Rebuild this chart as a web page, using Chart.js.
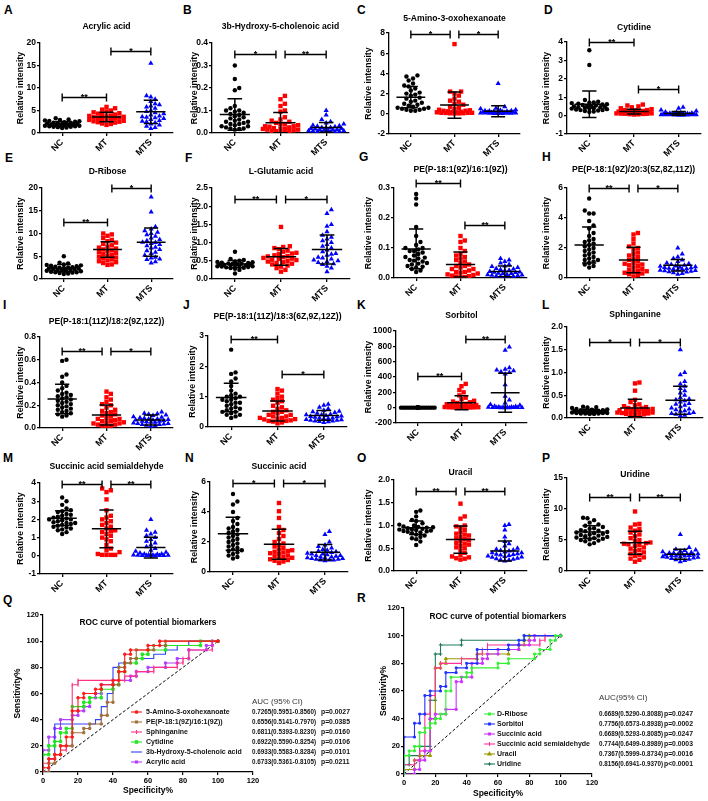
<!DOCTYPE html>
<html><head><meta charset="utf-8">
<script src="https://cdn.jsdelivr.net/npm/chart.js@4.4.0/dist/chart.umd.min.js"></script>
<style>
html,body{margin:0;padding:0;background:#fff;}
body{width:708px;height:801px;position:relative;overflow:hidden;font-family:"Liberation Sans",Arial,sans-serif;}
canvas{position:absolute;}
.lbl{position:absolute;font:bold 12px "Liberation Sans",Arial,sans-serif;line-height:12px;color:#000;}
</style></head><body>
<script>
// ---------------- DATA ----------------
const groups = ['NC', 'MT', 'MTS'];

const A_title = 'Acrylic acid';
const A_ticks = ['0','5','10','15','20'];
const A_NC  = [3.3,3.0,2.9,2.8,2.7,2.6,2.5,2.4,2.3,2.3,2.2,2.1,2.1,2.0,2.0,1.9,1.9,1.8,1.8,1.7,1.7,1.6,1.6,1.5,1.5,1.4,1.4,1.3,1.2,1.1];
const A_MT  = [5.8,5.5,5.2,5.0,4.8,4.6,4.4,4.3,4.1,4.0,3.9,3.8,3.7,3.6,3.5,3.4,3.3,3.2,3.1,3.0,2.9,2.8,2.7,2.6,2.5,2.4,2.3,2.1,2.0,1.8];
const A_MTS = [15.5,8.3,8.0,7.5,7.0,6.5,6.3,6.0,5.8,5.5,5.0,4.8,4.5,4.3,4.0,3.8,3.6,3.5,3.4,3.2,3.0,2.8,2.6,2.5,2.3,2.0,1.8,1.5,1.2,1.0];
const A_mean = [2.0,3.55,4.7];
const A_sd   = [0.55,1.05,2.6];
const A_sig  = [[0,1,8.0,'**'],[1,2,18.2,'*']];

const B_title = '3b-Hydroxy-5-cholenoic acid';
const B_ticks = ['0.0','0.1','0.2','0.3','0.4'];
const B_NC  = [0.30,0.24,0.20,0.19,0.12,0.11,0.10,0.10,0.095,0.09,0.085,0.08,0.075,0.07,0.065,0.06,0.055,0.05,0.05,0.045,0.04,0.04,0.035,0.03,0.03,0.025,0.02,0.02,0.018,0.015];
const B_MT  = [0.165,0.15,0.13,0.12,0.10,0.095,0.07,0.06,0.055,0.05,0.045,0.04,0.04,0.035,0.03,0.03,0.028,0.025,0.022,0.02,0.02,0.018,0.015,0.015,0.012,0.01,0.01,0.008,0.005,0.003];
const B_MTS = [0.10,0.08,0.06,0.05,0.045,0.04,0.035,0.032,0.03,0.028,0.025,0.024,0.022,0.02,0.02,0.018,0.016,0.015,0.014,0.012,0.011,0.01,0.01,0.009,0.008,0.007,0.006,0.005,0.004,0.003];
const B_mean = [0.082,0.046,0.025];
const B_sd   = [0.07,0.045,0.022];
const B_sig  = [[0,1,0.35,'*'],[1,2,0.35,'**']];

const C_title = '5-Amino-3-oxohexanoate';
const C_ticks = ['-2','0','2','4','6','8'];
const C_NC  = [3.8,3.7,3.5,3.3,3.0,2.8,2.7,2.5,2.3,2.1,2.0,1.9,1.8,1.6,1.5,1.3,1.2,1.1,1.0,0.9,0.8,0.7,0.6,0.6,0.5,0.5,0.4,0.4,0.3,0.3];
const C_MT  = [6.9,2.2,2.2,2.0,1.8,1.5,1.3,1.2,1.0,0.9,0.7,0.6,0.5,0.4,0.35,0.3,0.3,0.25,0.2,0.2,0.15,0.15,0.1,0.1,0.1,0.08,0.06,0.05,0.04,0.03];
const C_MTS = [3.0,0.7,0.55,0.5,0.4,0.35,0.3,0.3,0.28,0.25,0.22,0.2,0.2,0.18,0.16,0.15,0.14,0.12,0.12,0.1,0.1,0.09,0.08,0.07,0.06,0.05,0.05,0.04,0.03,0.02];
const C_mean = [1.65,0.87,0.25];
const C_sd   = [1.05,1.3,0.55];
const C_sig  = [[0,1,7.9,'*'],[1,2,7.9,'*']];

const D_title = 'Cytidine';
const D_ticks = ['-1','0','1','2','3','4'];
const D_NC  = [3.55,2.75,0.85,0.75,0.72,0.7,0.68,0.65,0.62,0.6,0.58,0.55,0.52,0.5,0.5,0.48,0.45,0.45,0.42,0.4,0.4,0.38,0.35,0.33,0.3,0.3,0.28,0.25,0.22,0.2];
const D_MT  = [0.6,0.55,0.5,0.45,0.4,0.35,0.3,0.3,0.28,0.25,0.24,0.22,0.2,0.2,0.18,0.18,0.16,0.15,0.15,0.14,0.13,0.12,0.12,0.11,0.1,0.1,0.09,0.08,0.07,0.06];
const D_MTS = [0.45,0.4,0.3,0.25,0.2,0.18,0.15,0.14,0.13,0.12,0.11,0.1,0.1,0.09,0.09,0.08,0.08,0.07,0.07,0.06,0.06,0.05,0.05,0.05,0.04,0.04,0.03,0.03,0.02,0.02];
const D_mean = [0.62,0.22,0.12];
const D_sd   = [0.72,0.13,0.1];
const D_sig  = [[0,1,4.0,'**'],[1,2,1.47,'*']];

const E_title = 'D-Ribose';
const E_ticks = ['0','5','10','15','20'];
const E_NC  = [5.0,3.6,3.4,3.2,3.1,3.0,2.9,2.8,2.7,2.6,2.5,2.5,2.4,2.3,2.3,2.2,2.1,2.0,2.0,1.9,1.8,1.8,1.7,1.6,1.5,1.5,1.4,1.3,1.2,1.1];
const E_MT  = [10.0,9.8,9.5,9.0,8.6,8.3,8.0,7.7,7.4,7.1,6.9,6.7,6.5,6.3,6.1,5.9,5.7,5.5,5.3,5.1,4.9,4.7,4.5,4.3,4.1,3.9,3.7,3.5,3.2,3.1];
const E_MTS = [18.0,14.7,11.5,11.0,10.6,10.3,10.0,9.7,9.4,9.0,8.7,8.4,8.1,8.0,7.8,7.6,7.3,7.0,6.8,6.5,6.2,5.9,5.6,5.2,4.8,4.6,4.4,4.3,3.8,3.5];
const E_mean = [2.4,6.5,8.1];
const E_sd   = [0.8,1.7,3.1];
const E_sig  = [[0,1,12.5,'**'],[1,2,20.0,'*']];

const F_title = 'L-Glutamic acid';
const F_ticks = ['0.0','0.5','1.0','1.5','2.0','2.5'];
const F_NC  = [0.75,0.55,0.52,0.5,0.48,0.47,0.46,0.45,0.44,0.43,0.42,0.42,0.41,0.4,0.4,0.39,0.38,0.38,0.37,0.36,0.35,0.35,0.34,0.33,0.32,0.31,0.3,0.28,0.25,0.15];
const F_MT  = [1.43,0.9,0.88,0.85,0.82,0.78,0.75,0.72,0.7,0.68,0.65,0.63,0.62,0.6,0.58,0.56,0.55,0.53,0.52,0.5,0.48,0.46,0.44,0.42,0.4,0.37,0.34,0.3,0.25,0.2];
const F_MTS = [1.9,1.8,1.5,1.45,1.3,1.2,1.15,1.1,1.05,1.0,0.95,0.9,0.85,0.8,0.75,0.7,0.68,0.65,0.6,0.58,0.55,0.52,0.5,0.48,0.45,0.42,0.4,0.35,0.3,0.2];
const F_mean = [0.41,0.61,0.81];
const F_sd   = [0.1,0.23,0.4];
const F_sig  = [[0,1,2.2,'**'],[1,2,2.2,'*']];

const G_title = 'PE(P-18:1(9Z)/16:1(9Z))';
const G_ticks = ['0.0','0.1','0.2','0.3'];
const G_NC  = [0.28,0.265,0.245,0.17,0.14,0.12,0.11,0.1,0.1,0.095,0.09,0.09,0.085,0.08,0.075,0.07,0.068,0.065,0.06,0.058,0.055,0.05,0.048,0.045,0.04,0.038,0.035,0.03,0.025,0.02];
const G_MT  = [0.14,0.125,0.12,0.1,0.09,0.08,0.075,0.07,0.065,0.06,0.055,0.05,0.045,0.04,0.04,0.035,0.03,0.03,0.025,0.02,0.02,0.018,0.015,0.012,0.01,0.008,0.006,0.005,0.003,0.002];
const G_MTS = [0.065,0.06,0.055,0.05,0.045,0.04,0.038,0.035,0.032,0.03,0.028,0.026,0.024,0.022,0.02,0.019,0.018,0.016,0.015,0.014,0.012,0.011,0.01,0.009,0.008,0.007,0.006,0.005,0.004,0.003];
const G_mean = [0.097,0.045,0.022];
const G_sd   = [0.066,0.042,0.018];
const G_sig  = [[0,1,0.317,'**'],[1,2,0.177,'**']];

const H_title = 'PE(P-18:1(9Z)/20:3(5Z,8Z,11Z))';
const H_ticks = ['0','2','4','6'];
const H_NC  = [5.3,4.5,4.3,4.3,3.8,3.5,3.3,3.0,2.8,2.6,2.5,2.4,2.3,2.2,2.1,2.0,1.9,1.8,1.7,1.6,1.5,1.4,1.3,1.2,1.2,1.1,1.0,0.9,0.8,0.7];
const H_MT  = [3.0,2.9,2.6,2.3,2.1,2.0,1.9,1.7,1.6,1.5,1.4,1.3,1.2,1.1,1.0,0.95,0.9,0.85,0.8,0.7,0.6,0.55,0.5,0.45,0.4,0.35,0.3,0.25,0.2,0.1];
const H_MTS = [2.0,1.6,1.4,1.3,1.2,1.1,1.0,0.95,0.9,0.85,0.8,0.78,0.75,0.72,0.7,0.68,0.65,0.62,0.6,0.58,0.55,0.52,0.5,0.48,0.45,0.42,0.4,0.35,0.3,0.25];
const H_mean = [2.2,1.2,0.85];
const H_sd   = [1.2,0.85,0.38];
const H_sig  = [[0,1,6.0,'**'],[1,2,6.0,'*']];

const I_title = 'PE(P-18:1(11Z)/18:2(9Z,12Z))';
const I_ticks = ['0.0','0.2','0.4','0.6','0.8'];
const I_NC  = [0.6,0.59,0.47,0.45,0.4,0.37,0.35,0.33,0.31,0.3,0.29,0.28,0.27,0.26,0.25,0.24,0.23,0.22,0.21,0.2,0.19,0.18,0.17,0.16,0.15,0.14,0.13,0.12,0.11,0.1];
const I_MT  = [0.32,0.3,0.27,0.25,0.23,0.21,0.2,0.18,0.16,0.15,0.14,0.13,0.12,0.11,0.1,0.09,0.08,0.08,0.07,0.06,0.06,0.05,0.05,0.04,0.04,0.03,0.03,0.02,0.02,0.01];
const I_MTS = [0.14,0.13,0.125,0.12,0.115,0.11,0.1,0.095,0.09,0.085,0.08,0.08,0.075,0.07,0.07,0.065,0.06,0.06,0.055,0.05,0.05,0.045,0.04,0.04,0.035,0.03,0.03,0.025,0.02,0.015];
const I_mean = [0.255,0.114,0.07];
const I_sd   = [0.13,0.088,0.044];
const I_sig  = [[0,1,0.68,'**'],[1,2,0.68,'*']];

const J_title = 'PE(P-18:1(11Z)/18:3(6Z,9Z,12Z))';
const J_ticks = ['0','1','2','3'];
const J_NC  = [2.55,1.8,1.75,1.6,1.5,1.35,1.2,1.1,1.05,1.0,1.0,0.95,0.9,0.9,0.85,0.8,0.8,0.75,0.7,0.65,0.6,0.6,0.55,0.5,0.5,0.45,0.4,0.4,0.35,0.3];
const J_MT  = [1.25,1.2,1.1,1.0,0.95,0.9,0.85,0.8,0.7,0.65,0.6,0.55,0.5,0.5,0.45,0.4,0.4,0.35,0.35,0.3,0.3,0.28,0.26,0.25,0.22,0.2,0.2,0.18,0.15,0.12];
const J_MTS = [0.75,0.72,0.65,0.6,0.55,0.52,0.5,0.48,0.45,0.42,0.4,0.4,0.38,0.36,0.35,0.34,0.32,0.3,0.3,0.28,0.27,0.25,0.24,0.22,0.22,0.2,0.2,0.18,0.17,0.15];
const J_mean = [0.97,0.53,0.38];
const J_sd   = [0.47,0.33,0.16];
const J_sig  = [[0,1,2.9,'**'],[1,2,1.75,'*']];

const K_title = 'Sorbitol';
const K_ticks = ['-200','0','200','400','600','800','1000'];
const K_NC  = [4,3,3,2,2,2,1,1,1,1,1,1,0.5,0.5,0.5,0.5,0,0,0,0,0,0,0,0,0,0,0,0,0,0];
const K_MT  = [310,280,230,200,160,130,110,90,80,70,60,50,45,40,35,30,25,20,15,12,10,8,6,5,4,3,2,1,1,0];
const K_MTS = [790,750,520,500,490,480,470,460,440,300,150,100,60,40,30,20,15,10,8,6,5,4,3,2,2,1,1,0,0,0];
const K_mean = [0,65,195];
const K_sd   = [3,92,255];
const K_sig  = [[0,1,415,'**'],[1,2,896,'**']];

const L_title = 'Sphinganine';
const L_ticks = ['0.0','0.5','1.0','1.5','2.0'];
const L_NC  = [0.25,0.24,0.23,0.22,0.2,0.19,0.18,0.17,0.17,0.16,0.16,0.15,0.15,0.14,0.14,0.14,0.13,0.13,0.13,0.12,0.12,0.12,0.11,0.11,0.11,0.1,0.1,0.1,0.09,0.09];
const L_MT  = [0.78,0.76,0.6,0.4,0.35,0.3,0.28,0.26,0.24,0.22,0.21,0.2,0.19,0.18,0.17,0.16,0.16,0.15,0.14,0.14,0.13,0.12,0.12,0.11,0.1,0.09,0.08,0.07,0.06,0.05];
const L_MTS = [1.5,1.0,0.95,0.8,0.75,0.7,0.65,0.6,0.55,0.5,0.45,0.42,0.4,0.38,0.35,0.32,0.3,0.28,0.25,0.22,0.2,0.18,0.16,0.15,0.12,0.1,0.1,0.08,0.06,0.05];
const L_mean = [0.15,0.22,0.39];
const L_sd   = [0.04,0.19,0.31];
const L_sig  = [[0,1,1.67,'*'],[1,2,1.67,'*']];

const M_title = 'Succinic acid semialdehyde';
const M_ticks = ['-1','0','1','2','3','4'];
const M_NC  = [3.2,3.0,2.8,2.6,2.5,2.45,2.4,2.3,2.25,2.2,2.15,2.1,2.05,2.0,2.0,1.95,1.9,1.85,1.8,1.8,1.75,1.7,1.65,1.6,1.55,1.5,1.45,1.4,1.3,1.2];
const M_MT  = [3.7,3.6,3.5,3.1,2.5,2.2,2.1,2.0,1.9,1.8,1.7,1.6,1.5,1.4,1.35,1.3,1.2,1.1,1.0,0.9,0.8,0.6,0.4,0.3,0.2,0.1,0.05,0.05,0.05,0.05];
const M_MTS = [2.0,1.4,1.3,1.2,1.1,1.0,0.9,0.8,0.7,0.6,0.5,0.4,0.3,0.25,0.2,0.15,0.1,0.1,0.08,0.06,0.05,0.04,0.03,0.03,0.02,0.02,0.01,0.01,0.0,0.0];
const M_mean = [2.07,1.48,0.45];
const M_sd   = [0.4,1.04,0.57];
const M_sig  = [[0,1,3.95,'**'],[1,2,3.95,'**']];

const N_title = 'Succinic acid';
const N_ticks = ['0','2','4','6'];
const N_NC  = [5.2,4.7,4.5,4.0,3.6,3.4,3.2,3.0,2.9,2.8,2.7,2.6,2.5,2.4,2.3,2.2,2.1,2.0,1.9,1.8,1.7,1.6,1.5,1.45,1.4,1.3,1.2,1.1,1.0,0.9];
const N_MT  = [4.6,4.05,3.6,3.0,2.8,2.6,2.4,2.2,2.0,1.9,1.8,1.7,1.6,1.5,1.45,1.4,1.35,1.3,1.25,1.2,1.1,1.05,1.0,0.95,0.9,0.85,0.8,0.75,0.7,0.6];
const N_MTS = [2.7,2.5,2.0,1.8,1.7,1.6,1.5,1.45,1.4,1.35,1.3,1.25,1.2,1.2,1.15,1.1,1.1,1.05,1.0,1.0,0.95,0.95,0.9,0.9,0.85,0.85,0.8,0.8,0.8,0.75];
const N_mean = [2.55,1.85,1.32];
const N_sd   = [1.1,1.0,0.52];
const N_sig  = [[0,1,5.93,'*'],[1,2,5.93,'*']];

const O_title = 'Uracil';
const O_ticks = ['0.0','0.5','1.0','1.5','2.0'];
const O_NC  = [1.33,1.3,1.2,1.12,1.1,1.05,1.02,1.0,0.98,0.97,0.96,0.95,0.94,0.93,0.92,0.91,0.9,0.89,0.88,0.87,0.86,0.85,0.83,0.8,0.78,0.75,0.72,0.7,0.65,0.57];
const O_MT  = [1.48,1.2,1.15,1.0,0.98,0.95,0.9,0.85,0.82,0.8,0.78,0.75,0.72,0.7,0.68,0.65,0.62,0.6,0.58,0.55,0.52,0.5,0.45,0.4,0.35,0.32,0.3,0.28,0.27,0.25];
const O_MTS = [1.02,1.0,0.9,0.75,0.65,0.6,0.55,0.5,0.48,0.46,0.45,0.44,0.42,0.4,0.4,0.38,0.37,0.36,0.35,0.34,0.33,0.32,0.31,0.3,0.28,0.27,0.26,0.25,0.24,0.22];
const O_mean = [0.95,0.69,0.44];
const O_sd   = [0.15,0.3,0.22];
const O_sig  = [[0,1,1.76,'**'],[1,2,1.76,'**']];

const P_title = 'Uridine';
const P_ticks = ['0','5','10','15'];
const P_NC  = [8.6,8.5,8.2,7.8,7.5,7.3,7.1,6.9,6.8,6.6,6.5,6.4,6.3,6.2,6.1,6.0,5.9,5.8,5.7,5.6,5.5,5.4,5.3,5.2,5.1,5.0,4.9,4.8,4.5,4.3];
const P_MT  = [9.6,7.6,7.5,7.0,6.8,6.5,6.2,5.9,5.6,5.3,5.0,4.8,4.6,4.5,4.4,4.3,4.2,4.0,3.8,3.6,3.4,3.2,3.0,2.8,2.6,2.4,2.2,2.0,1.8,1.5];
const P_MTS = [5.9,3.8,3.5,3.4,3.3,3.2,3.1,3.0,2.9,2.9,2.8,2.8,2.7,2.7,2.6,2.6,2.5,2.5,2.4,2.4,2.3,2.3,2.2,2.2,2.1,2.0,1.9,1.8,1.7,1.5];
const P_mean = [6.3,4.55,2.7];
const P_sd   = [1.0,1.85,0.8];
const P_sig  = [[0,1,11.9,'**'],[1,2,11.9,'**']];

// ROC (x = Specificity%, y = Sensitivity%) vertices
const rocTicks = ['0','20','40','60','80','100','120'];
const rocQ_names = ['5-Amino-3-oxohexanoate','PE(P-18:1(9Z)/16:1(9Z))','Sphinganine','Cytidine','3b-Hydroxy-5-cholenoic acid','Acrylic acid'];
const rocQ_auc = ['0.7265(0.5951-0.8560)','0.6556(0.5141-0.7970)','0.6811(0.5393-0.8230)','0.6922(0.5590-0.8254)','0.6933(0.5583-0.8284)','0.6733(0.5361-0.8105)'];
const rocQ_p = ['p=0.0027','p=0.0385','p=0.0160','p=0.0106','p=0.0101','p=0.0211'];
const rocQ_amino = [[0,0],[0,3.3],[3.3,3.3],[3.3,10],[6.7,10],[6.7,13.3],[10,13.3],[10,20],[13.3,20],[13.3,26.7],[16.7,26.7],[16.7,46.7],[20,46.7],[20,56.7],[23.3,56.7],[23.3,60],[30,60],[30,63.3],[33.3,63.3],[33.3,66.7],[40,66.7],[40,70],[43.3,70],[43.3,76.7],[46.7,76.7],[46.7,90],[50,90],[50,93.3],[60,93.3],[60,96.7],[66.7,96.7],[66.7,100],[100,100]];
const rocQ_pe = [[0,0],[3.3,0],[3.3,6.7],[6.7,6.7],[6.7,13.3],[10,13.3],[10,20],[16.7,20],[16.7,30],[23.3,30],[23.3,33.3],[26.7,33.3],[26.7,36.7],[33.3,36.7],[33.3,43.3],[36.7,43.3],[36.7,53.3],[40,53.3],[40,66.7],[43.3,66.7],[43.3,80],[46.7,80],[46.7,83.3],[50,83.3],[50,86.7],[53.3,86.7],[53.3,93.3],[63.3,93.3],[63.3,96.7],[70,96.7],[70,100],[100,100]];
const rocQ_sph = [[0,0],[0,6.7],[3.3,6.7],[3.3,10],[6.7,10],[6.7,13.3],[10,13.3],[10,16.7],[13.3,16.7],[13.3,20],[16.7,20],[16.7,66.7],[20,66.7],[20,70],[46.7,70],[46.7,73.3],[53.3,73.3],[53.3,76.7],[63.3,76.7],[63.3,80],[76.7,80],[76.7,83.3],[80,83.3],[80,86.7],[83.3,86.7],[83.3,93.3],[96.7,93.3],[96.7,100],[100,100]];
const rocQ_cyt = [[0,0],[0,13.3],[3.3,13.3],[3.3,20],[6.7,20],[6.7,23.3],[10,23.3],[10,30],[13.3,30],[13.3,33.3],[16.7,33.3],[16.7,50],[23.3,50],[23.3,53.3],[26.7,53.3],[26.7,56.7],[33.3,56.7],[33.3,63.3],[40,63.3],[40,66.7],[43.3,66.7],[43.3,76.7],[46.7,76.7],[46.7,83.3],[53.3,83.3],[53.3,86.7],[56.7,86.7],[56.7,90],[60,90],[60,93.3],[70,93.3],[70,96.7],[90,96.7],[90,100],[100,100]];
const rocQ_hyd = [[0,0],[3.3,0],[3.3,10],[6.7,10],[6.7,36.7],[30,36.7],[30,40],[33.3,40],[33.3,50],[36.7,50],[36.7,60],[40,60],[40,80],[43.3,80],[43.3,83.3],[50,83.3],[50,86.7],[63.3,86.7],[63.3,90],[70,90],[70,93.3],[76.7,93.3],[76.7,96.7],[83.3,96.7],[83.3,100],[100,100]];
const rocQ_acr = [[0,0],[0,16.7],[3.3,16.7],[3.3,26.7],[6.7,26.7],[6.7,33.3],[10,33.3],[10,40],[16.7,40],[16.7,43.3],[20,43.3],[20,46.7],[23.3,46.7],[23.3,50],[26.7,50],[26.7,56.7],[30,56.7],[30,60],[33.3,60],[33.3,66.7],[40,66.7],[40,70],[50,70],[50,73.3],[53.3,73.3],[53.3,76.7],[60,76.7],[60,80],[70,80],[70,83.3],[76.7,83.3],[76.7,86.7],[83.3,86.7],[83.3,93.3],[93.3,93.3],[93.3,96.7],[96.7,96.7],[96.7,100],[100,100]];

const rocR_names = ['D-Ribose','Sorbitol','Succinic acid','Succinic acid semialdehyde','Uracil','Uridine'];
const rocR_auc = ['0.6689(0.5290-0.8088)','0.7756(0.6573-0.8938)','0.6689(0.5293-0.8085)','0.7744(0.6499-0.8989)','0.7367(0.5999-0.8734)','0.8156(0.6941-0.9370)'];
const rocR_p = ['p=0.0247','p=0.0002','p=0.0247','p=0.0003','p=0.0016','p<0.0001'];
const rocR_rib = [[0,0],[0,13.3],[3.3,13.3],[3.3,16.7],[6.7,16.7],[6.7,20],[10,20],[10,30],[13.3,30],[13.3,33.3],[16.7,33.3],[16.7,36.7],[20,36.7],[20,40],[23.3,40],[23.3,43.3],[26.7,43.3],[26.7,60],[30,60],[30,70],[40,70],[40,73.3],[43.3,73.3],[43.3,76.7],[60,76.7],[60,80],[66.7,80],[66.7,83.3],[83.3,83.3],[83.3,86.7],[86.7,86.7],[86.7,90],[93.3,90],[93.3,96.7],[96.7,96.7],[96.7,100],[100,100]];
const rocR_sor = [[0,0],[0,26.7],[6.7,26.7],[6.7,36.7],[10,36.7],[10,43.3],[13.3,43.3],[13.3,56.7],[16.7,56.7],[16.7,60],[23.3,60],[23.3,63.3],[26.7,63.3],[26.7,73.3],[33.3,73.3],[33.3,76.7],[40,76.7],[40,80],[46.7,80],[46.7,90],[66.7,90],[66.7,93.3],[73.3,93.3],[73.3,96.7],[76.7,96.7],[76.7,100],[100,100]];
const rocR_suc = [[0,0],[6.7,0],[6.7,3.3],[10,3.3],[10,10],[13.3,10],[13.3,16.7],[16.7,16.7],[16.7,40],[20,40],[20,43.3],[26.7,43.3],[26.7,46.7],[33.3,46.7],[33.3,66.7],[36.7,66.7],[36.7,70],[43.3,70],[43.3,80],[50,80],[50,83.3],[53.3,83.3],[53.3,86.7],[60,86.7],[60,90],[73.3,90],[73.3,93.3],[80,93.3],[80,96.7],[83.3,96.7],[83.3,100],[100,100]];
const rocR_ssa = [[0,0],[0,6.7],[6.7,6.7],[6.7,10],[10,10],[10,16.7],[13.3,16.7],[13.3,43.3],[16.7,43.3],[16.7,56.7],[20,56.7],[20,76.7],[23.3,76.7],[23.3,80],[36.7,80],[36.7,83.3],[46.7,83.3],[46.7,86.7],[50,86.7],[50,90],[53.3,90],[53.3,93.3],[86.7,93.3],[86.7,96.7],[90,96.7],[90,100],[100,100]];
const rocR_ura = [[0,0],[0,3.3],[6.7,3.3],[6.7,10],[10,10],[10,13.3],[16.7,13.3],[16.7,40],[20,40],[20,76.7],[23.3,76.7],[23.3,80],[26.7,80],[26.7,83.3],[46.7,83.3],[46.7,86.7],[66.7,86.7],[66.7,90],[73.3,90],[73.3,93.3],[76.7,93.3],[76.7,96.7],[80,96.7],[80,100],[100,100]];
const rocR_uri = [[0,0],[0,6.7],[3.3,6.7],[3.3,13.3],[10,13.3],[10,20],[16.7,20],[16.7,53.3],[20,53.3],[20,86.7],[23.3,86.7],[23.3,93.3],[36.7,93.3],[36.7,96.7],[76.7,96.7],[76.7,100],[100,100]];
const rocDiag = [[0,0],[100,100]];

// ---------------- LAYOUT ----------------
const FF = '"Liberation Sans", Arial, Helvetica, sans-serif';
Chart.defaults.font.family = FF;
Chart.defaults.color = '#000';

const LAY = {
 A:{cl:0,  ct:0,  x0:40, x1:176, y0:43, y1:133, ty:27, ax:21},
 B:{cl:177,ct:0,  x0:212,x1:349, y0:43, y1:133, ty:27, ax:195},
 C:{cl:354,ct:0,  x0:389,x1:520, y0:33, y1:134, ty:19, ax:369},
 D:{cl:531,ct:0,  x0:567,x1:701, y0:42, y1:134, ty:28, ax:547},
 E:{cl:0,  ct:148,x0:42, x1:177, y0:188,y1:279, ty:172,ax:21},
 F:{cl:177,ct:148,x0:212,x1:350, y0:188,y1:279, ty:172,ax:195},
 G:{cl:354,ct:148,x0:394,x1:530, y0:188,y1:278, ty:170,ax:369},
 H:{cl:531,ct:148,x0:567,x1:700, y0:188,y1:278, ty:170,ax:547},
 I:{cl:0,  ct:296,x0:40, x1:175, y0:337,y1:428, ty:322,ax:21},
 J:{cl:177,ct:296,x0:208,x1:347, y0:336,y1:427, ty:317,ax:193},
 K:{cl:354,ct:296,x0:396,x1:533, y0:331,y1:423, ty:316,ax:369},
 L:{cl:531,ct:296,x0:567,x1:703, y0:327,y1:418, ty:315,ax:547},
 M:{cl:0,  ct:445,x0:40, x1:175, y0:483,y1:574, ty:467,ax:21},
 N:{cl:177,ct:445,x0:210,x1:348, y0:482,y1:572, ty:467,ax:195},
 O:{cl:354,ct:445,x0:394,x1:533, y0:480,y1:571, ty:473,ax:369},
 P:{cl:531,ct:445,x0:567,x1:703, y0:478,y1:571, ty:475,ax:547}
};
const LETTERS = [['A',4,10],['B',183,10],['C',357,10],['D',544,10],['E',5,158],['F',185,158],['G',359,157],['H',542,157],
 ['I',3,305],['J',183,305],['K',357,305],['L',542,305],['M',3,458],['N',185,458],['O',357,458],['P',542,458],['Q',3,600],['R',357,598]];
LETTERS.forEach(([t,x,y])=>{const d=document.createElement('div');d.className='lbl';d.textContent=t;d.style.left=x+'px';d.style.top=(y-6)+'px';document.body.appendChild(d);});

function makeCanvas(left, top, w, h){
  const c = document.createElement('canvas');
  c.width = w; c.height = h;
  c.style.left = left+'px'; c.style.top = top+'px';
  c.style.width = w+'px'; c.style.height = h+'px';
  document.body.appendChild(c);
  return c;
}

// beeswarm horizontal offsets (layout only; y values untouched)
function swarm(vals, pxPerVal, pxPerUnit){
  const dia = 4.4, maxHalf = 19;
  const idx = vals.map((v,i)=>i).sort((a,b)=>vals[a]-vals[b]);
  const placed = [], out = new Array(vals.length).fill(0);
  const cands = [0];
  for (let k=1; k*dia*0.5 <= maxHalf; k++) cands.push(k*dia*0.5, -k*dia*0.5);
  for (const i of idx){
    const py = vals[i]*pxPerVal;
    let chosen = null, bestC = 0, bestD = -1;
    for (const c of cands){
      let md = Infinity;
      for (const p of placed){ const d = Math.hypot(p.x-c, p.y-py); if (d<md) md=d; }
      if (md >= dia){ chosen = c; break; }
      if (md > bestD + 0.3){ bestD = md; bestC = c; }
    }
    if (chosen === null) chosen = bestC;
    placed.push({x:chosen, y:py});
    out[i] = chosen/pxPerUnit;
  }
  return out;
}

function dotPanel(key, title, ticks, nc, mt, mts, mean, sd, sig){
  const g = LAY[key];
  const W = 177, H = g.y1 + 28 - g.ct;
  const cv = makeCanvas(g.cl, g.ct, W, H);
  const tv = ticks.map(Number);
  const ymin = tv[0], ymax = tv[tv.length-1];
  const pxPerVal = (g.y1-g.y0)/(ymax-ymin);
  const pxPerUnit = (g.x1-g.x0)/3;
  const mk = (vals, gi) => { const off = swarm(vals, pxPerVal, pxPerUnit); return vals.map((v,i)=>({x:gi+off[i], y:v})); };
  const eb = [];
  mean.forEach((m,i)=>{ const s = sd[i];
    eb.push({x:i-0.33,y:m},{x:i+0.33,y:m},{x:i,y:null},
            {x:i,y:m-s},{x:i,y:m+s},{x:i,y:null},
            {x:i-0.16,y:m+s},{x:i+0.16,y:m+s},{x:i,y:null},
            {x:i-0.16,y:m-s},{x:i+0.16,y:m-s},{x:i,y:null});
  });
  const extras = {
    id: 'dotx',
    afterDraw(chart){
      const ctx = chart.ctx, xs = chart.scales.x, ys = chart.scales.y, ca = chart.chartArea;
      ctx.save();
      ctx.fillStyle = '#000';
      ctx.font = 'bold 8.6px ' + FF; ctx.textAlign = 'center'; ctx.textBaseline = 'middle';
      ctx.fillText(title, (ca.left+ca.right)/2, g.ty - g.ct);
      ctx.strokeStyle = '#000'; ctx.lineWidth = 1.4;
      sig.forEach(s => {
        let a = s[0], b = s[1];
        const sameRow = sig.some(t => t !== s && t[0] === 1 && Math.abs(t[2]-s[2]) < (ymax-ymin)*0.1);
        if (a === 1) a += 0.1;
        if (b === 1 && sameRow) b -= 0.1;
        const xa = xs.getPixelForValue(a), xb = xs.getPixelForValue(b), y = Math.round(ys.getPixelForValue(s[2]))+0.5;
        ctx.beginPath();
        ctx.moveTo(xa,y); ctx.lineTo(xb,y);
        ctx.moveTo(xa,y-4); ctx.lineTo(xa,y+4);
        ctx.moveTo(xb,y-4); ctx.lineTo(xb,y+4);
        ctx.stroke();
        ctx.font = 'bold 9px ' + FF; ctx.textBaseline = 'alphabetic';
        ctx.fillText(s[3], (xa+xb)/2, y+2);
      });
      ctx.restore();
    }
  };
  new Chart(cv, {
    type: 'scatter',
    data: { datasets: [
      { data: eb, showLine: true, borderColor:'#000', borderWidth:1.5, pointRadius:0, order:0 },
      { data: mk(nc,0), pointStyle:'circle', pointRadius:2.2, backgroundColor:'#000', borderWidth:0, order:1 },
      { data: mk(mt,1), pointStyle:'rect', pointRadius:3.1, backgroundColor:'#FF0000', borderWidth:0, order:1 },
      { data: mk(mts,2), pointStyle:'triangle', pointRadius:3.0, backgroundColor:'#0000FF', borderWidth:0, order:1 }
    ]},
    options: {
      responsive:false, animation:false, devicePixelRatio:1, events:[],
      layout: { padding: { left:0, top:g.y0-g.ct, right: W-(g.x1-g.cl), bottom:0 } },
      plugins: { legend:{display:false}, tooltip:{enabled:false} },
      scales: {
        x: { type:'linear', min:-0.5, max:2.5,
             afterBuildTicks: s => { s.ticks = [0,1,2].map(v=>({value:v})); },
             afterFit: s => { s.height = H - (g.y1 - g.ct); },
             ticks: { callback: v => groups[v], minRotation:45, maxRotation:45, autoSkip:false, padding:1,
                      font:{size:9, weight:'bold'}, color:'#000' },
             grid: { drawOnChartArea:false, drawTicks:true, tickLength:3, color:'#000', lineWidth:1.3 },
             border: { display:true, color:'#000', width:1.3 } },
        y: { type:'linear', min:ymin, max:ymax,
             afterBuildTicks: s => { s.ticks = tv.map(v=>({value:v})); },
             afterFit: s => { s.width = g.x0 - g.cl; },
             ticks: { callback: (v,i) => ticks[i], padding:1, font:{size:8.5, weight:'bold'}, color:'#000' },
             grid: { drawOnChartArea:false, drawTicks:true, tickLength:3, color:'#000', lineWidth:1.3 },
             border: { display:true, color:'#000', width:1.3 },
             title: { display:true, text:'Relative intensity', color:'#000', font:{size:8.8, weight:'bold'},
                      padding:{top: g.ax - g.cl - 5.3, bottom:0} } }
      }
    },
    plugins: [extras]
  });
}

dotPanel('A', A_title, A_ticks, A_NC, A_MT, A_MTS, A_mean, A_sd, A_sig);
dotPanel('B', B_title, B_ticks, B_NC, B_MT, B_MTS, B_mean, B_sd, B_sig);
dotPanel('C', C_title, C_ticks, C_NC, C_MT, C_MTS, C_mean, C_sd, C_sig);
dotPanel('D', D_title, D_ticks, D_NC, D_MT, D_MTS, D_mean, D_sd, D_sig);
dotPanel('E', E_title, E_ticks, E_NC, E_MT, E_MTS, E_mean, E_sd, E_sig);
dotPanel('F', F_title, F_ticks, F_NC, F_MT, F_MTS, F_mean, F_sd, F_sig);
dotPanel('G', G_title, G_ticks, G_NC, G_MT, G_MTS, G_mean, G_sd, G_sig);
dotPanel('H', H_title, H_ticks, H_NC, H_MT, H_MTS, H_mean, H_sd, H_sig);
dotPanel('I', I_title, I_ticks, I_NC, I_MT, I_MTS, I_mean, I_sd, I_sig);
dotPanel('J', J_title, J_ticks, J_NC, J_MT, J_MTS, J_mean, J_sd, J_sig);
dotPanel('K', K_title, K_ticks, K_NC, K_MT, K_MTS, K_mean, K_sd, K_sig);
dotPanel('L', L_title, L_ticks, L_NC, L_MT, L_MTS, L_mean, L_sd, L_sig);
dotPanel('M', M_title, M_ticks, M_NC, M_MT, M_MTS, M_mean, M_sd, M_sig);
dotPanel('N', N_title, N_ticks, N_NC, N_MT, N_MTS, N_mean, N_sd, N_sig);
dotPanel('O', O_title, O_ticks, O_NC, O_MT, O_MTS, O_mean, O_sd, O_sig);
dotPanel('P', P_title, P_ticks, P_NC, P_MT, P_MTS, P_mean, P_sd, P_sig);

// ---------------- ROC ----------------
function rocPanel(c){
  const cv = makeCanvas(c.left, c.top, c.W, c.H);
  const tv = rocTicks.map(Number);
  const toXY = arr => arr.map(p => ({x:p[0], y:p[1]}));
  const ds = c.series.map(s => ({ data: toXY(s.pts), showLine:true, borderColor:s.color, borderWidth:1.1,
      pointRadius:s.r, pointStyle:s.style, pointRotation:s.rot||0, backgroundColor:s.color, pointBorderColor:s.color, pointBorderWidth:1 }));
  ds.push({ data: toXY(rocDiag), showLine:true, borderColor:'#000', borderWidth:1, borderDash:[3,2], pointRadius:0 });
  const extras = {
    id:'rocx',
    afterDraw(chart){
      const ctx = chart.ctx, ca = chart.chartArea;
      ctx.save();
      ctx.fillStyle = '#000'; ctx.textAlign = 'center'; ctx.textBaseline = 'middle';
      ctx.font = 'bold 8.3px ' + FF;
      ctx.fillText('ROC curve of potential biomarkers', (ca.left+ca.right)/2, c.titleY - c.top);
      ctx.textAlign = 'left';
      ctx.font = '8px ' + FF; ctx.fillStyle = '#333';
      ctx.fillText(c.header, c.valX - c.left, c.headY - c.top);
      c.series.forEach((s,i) => {
        const y = c.rowY0 + i*c.rowDy - c.top;
        ctx.strokeStyle = s.color; ctx.fillStyle = s.color; ctx.lineWidth = 1.1;
        ctx.beginPath(); ctx.moveTo(c.sx0 - c.left, y); ctx.lineTo(c.sx1 - c.left, y); ctx.stroke();
        if (s.r > 0 && Chart.helpers && Chart.helpers.drawPoint) {
          Chart.helpers.drawPoint(ctx, {pointStyle:s.style, radius:s.r, borderWidth:1, rotation:s.rot||0}, (c.sx0+c.sx1)/2 - c.left, y);
        }
        ctx.fillStyle = '#111';
        ctx.font = 'bold 7px ' + FF;
        ctx.fillText(s.name, c.tx - c.left, y);
        ctx.font = 'bold 6.8px ' + FF;
        ctx.fillText(s.auc, c.valX - c.left, y, 64);
        ctx.fillText(s.p, c.pX - c.left, y);
      });
      ctx.restore();
    }
  };
  new Chart(cv, {
    type:'scatter',
    data:{ datasets: ds },
    options:{
      responsive:false, animation:false, devicePixelRatio:1, events:[],
      layout:{ padding:{ left:0, top:c.y0-c.top, right:c.W-(c.x1-c.left), bottom:0 } },
      plugins:{ legend:{display:false}, tooltip:{enabled:false} },
      scales:{
        x:{ type:'linear', min:0, max:120,
            afterBuildTicks: s => { s.ticks = tv.map(v=>({value:v})); },
            afterFit: s => { s.height = c.top + c.H - c.y1; },
            ticks:{ callback:(v,i)=>rocTicks[i], maxRotation:0, minRotation:0, padding:1, font:{size:7.5, weight:'bold'}, color:'#000' },
            grid:{ drawOnChartArea:false, drawTicks:true, tickLength:3, color:'#000', lineWidth:1.2 },
            border:{ display:true, color:'#000', width:1.2 },
            title:{ display:true, text:'Specificity%', color:'#000', font:{size:8.5, weight:'bold'}, padding:{top:0, bottom:c.xtPad} } },
        y:{ type:'linear', min:0, max:120,
            afterBuildTicks: s => { s.ticks = tv.map(v=>({value:v})); },
            afterFit: s => { s.width = c.x0 - c.left; },
            ticks:{ callback:(v,i)=>rocTicks[i], padding:1, font:{size:7.5, weight:'bold'}, color:'#000' },
            grid:{ drawOnChartArea:false, drawTicks:true, tickLength:3, color:'#000', lineWidth:1.2 },
            border:{ display:true, color:'#000', width:1.2 },
            title:{ display:true, text:'Sensitivity%', color:'#000', font:{size:8.5, weight:'bold'}, padding:{top:c.ytX - c.left - 5.1, bottom:0} } }
      }
    },
    plugins:[extras]
  });
}

const Qseries = [
  {pts:rocQ_amino, color:'#FF1A1A', style:'circle', r:1.3},
  {pts:rocQ_pe,    color:'#A0703C', style:'rect',   r:1.5},
  {pts:rocQ_sph,   color:'#FF3385', style:'line',   r:2.0, rot:90},
  {pts:rocQ_cyt,   color:'#22E622', style:'rect',   r:1.7},
  {pts:rocQ_hyd,   color:'#3040FF', style:'circle', r:0},
  {pts:rocQ_acr,   color:'#B23CFF', style:'rect',   r:1.5}
].map((s,i)=>Object.assign(s,{name:rocQ_names[i], auc:rocQ_auc[i], p:rocQ_p[i]}));
rocPanel({ left:0, top:595, W:365, H:206, x0:43, x1:253, y0:615, y1:772, ytX:18, xtPad:4.9,
  titleY:623, header:'AUC (95% CI)', headY:702, valX:252, pX:321, rowY0:712, rowDy:10, sx0:131, sx1:142, tx:146, series:Qseries });

const Rseries = [
  {pts:rocR_rib, color:'#33F033', style:'rect',     r:1.3},
  {pts:rocR_sor, color:'#2233FF', style:'rect',     r:1.3},
  {pts:rocR_suc, color:'#CC33FF', style:'rect',     r:1.4},
  {pts:rocR_ssa, color:'#FF3399', style:'line',     r:2.0, rot:90},
  {pts:rocR_ura, color:'#999900', style:'triangle', r:1.8},
  {pts:rocR_uri, color:'#1F7A5C', style:'cross',    r:1.8}
].map((s,i)=>Object.assign(s,{name:rocR_names[i], auc:rocR_auc[i], p:rocR_p[i]}));
rocPanel({ left:354, top:595, W:354, H:206, x0:404, x1:592, y0:608, y1:774, ytX:384, xtPad:1.9,
  titleY:617, header:'AUC(95% CI)', headY:698, valX:599, pX:664, rowY0:714, rowDy:10, sx0:484, sx1:495, tx:497, series:Rseries });
</script>
</body></html>
